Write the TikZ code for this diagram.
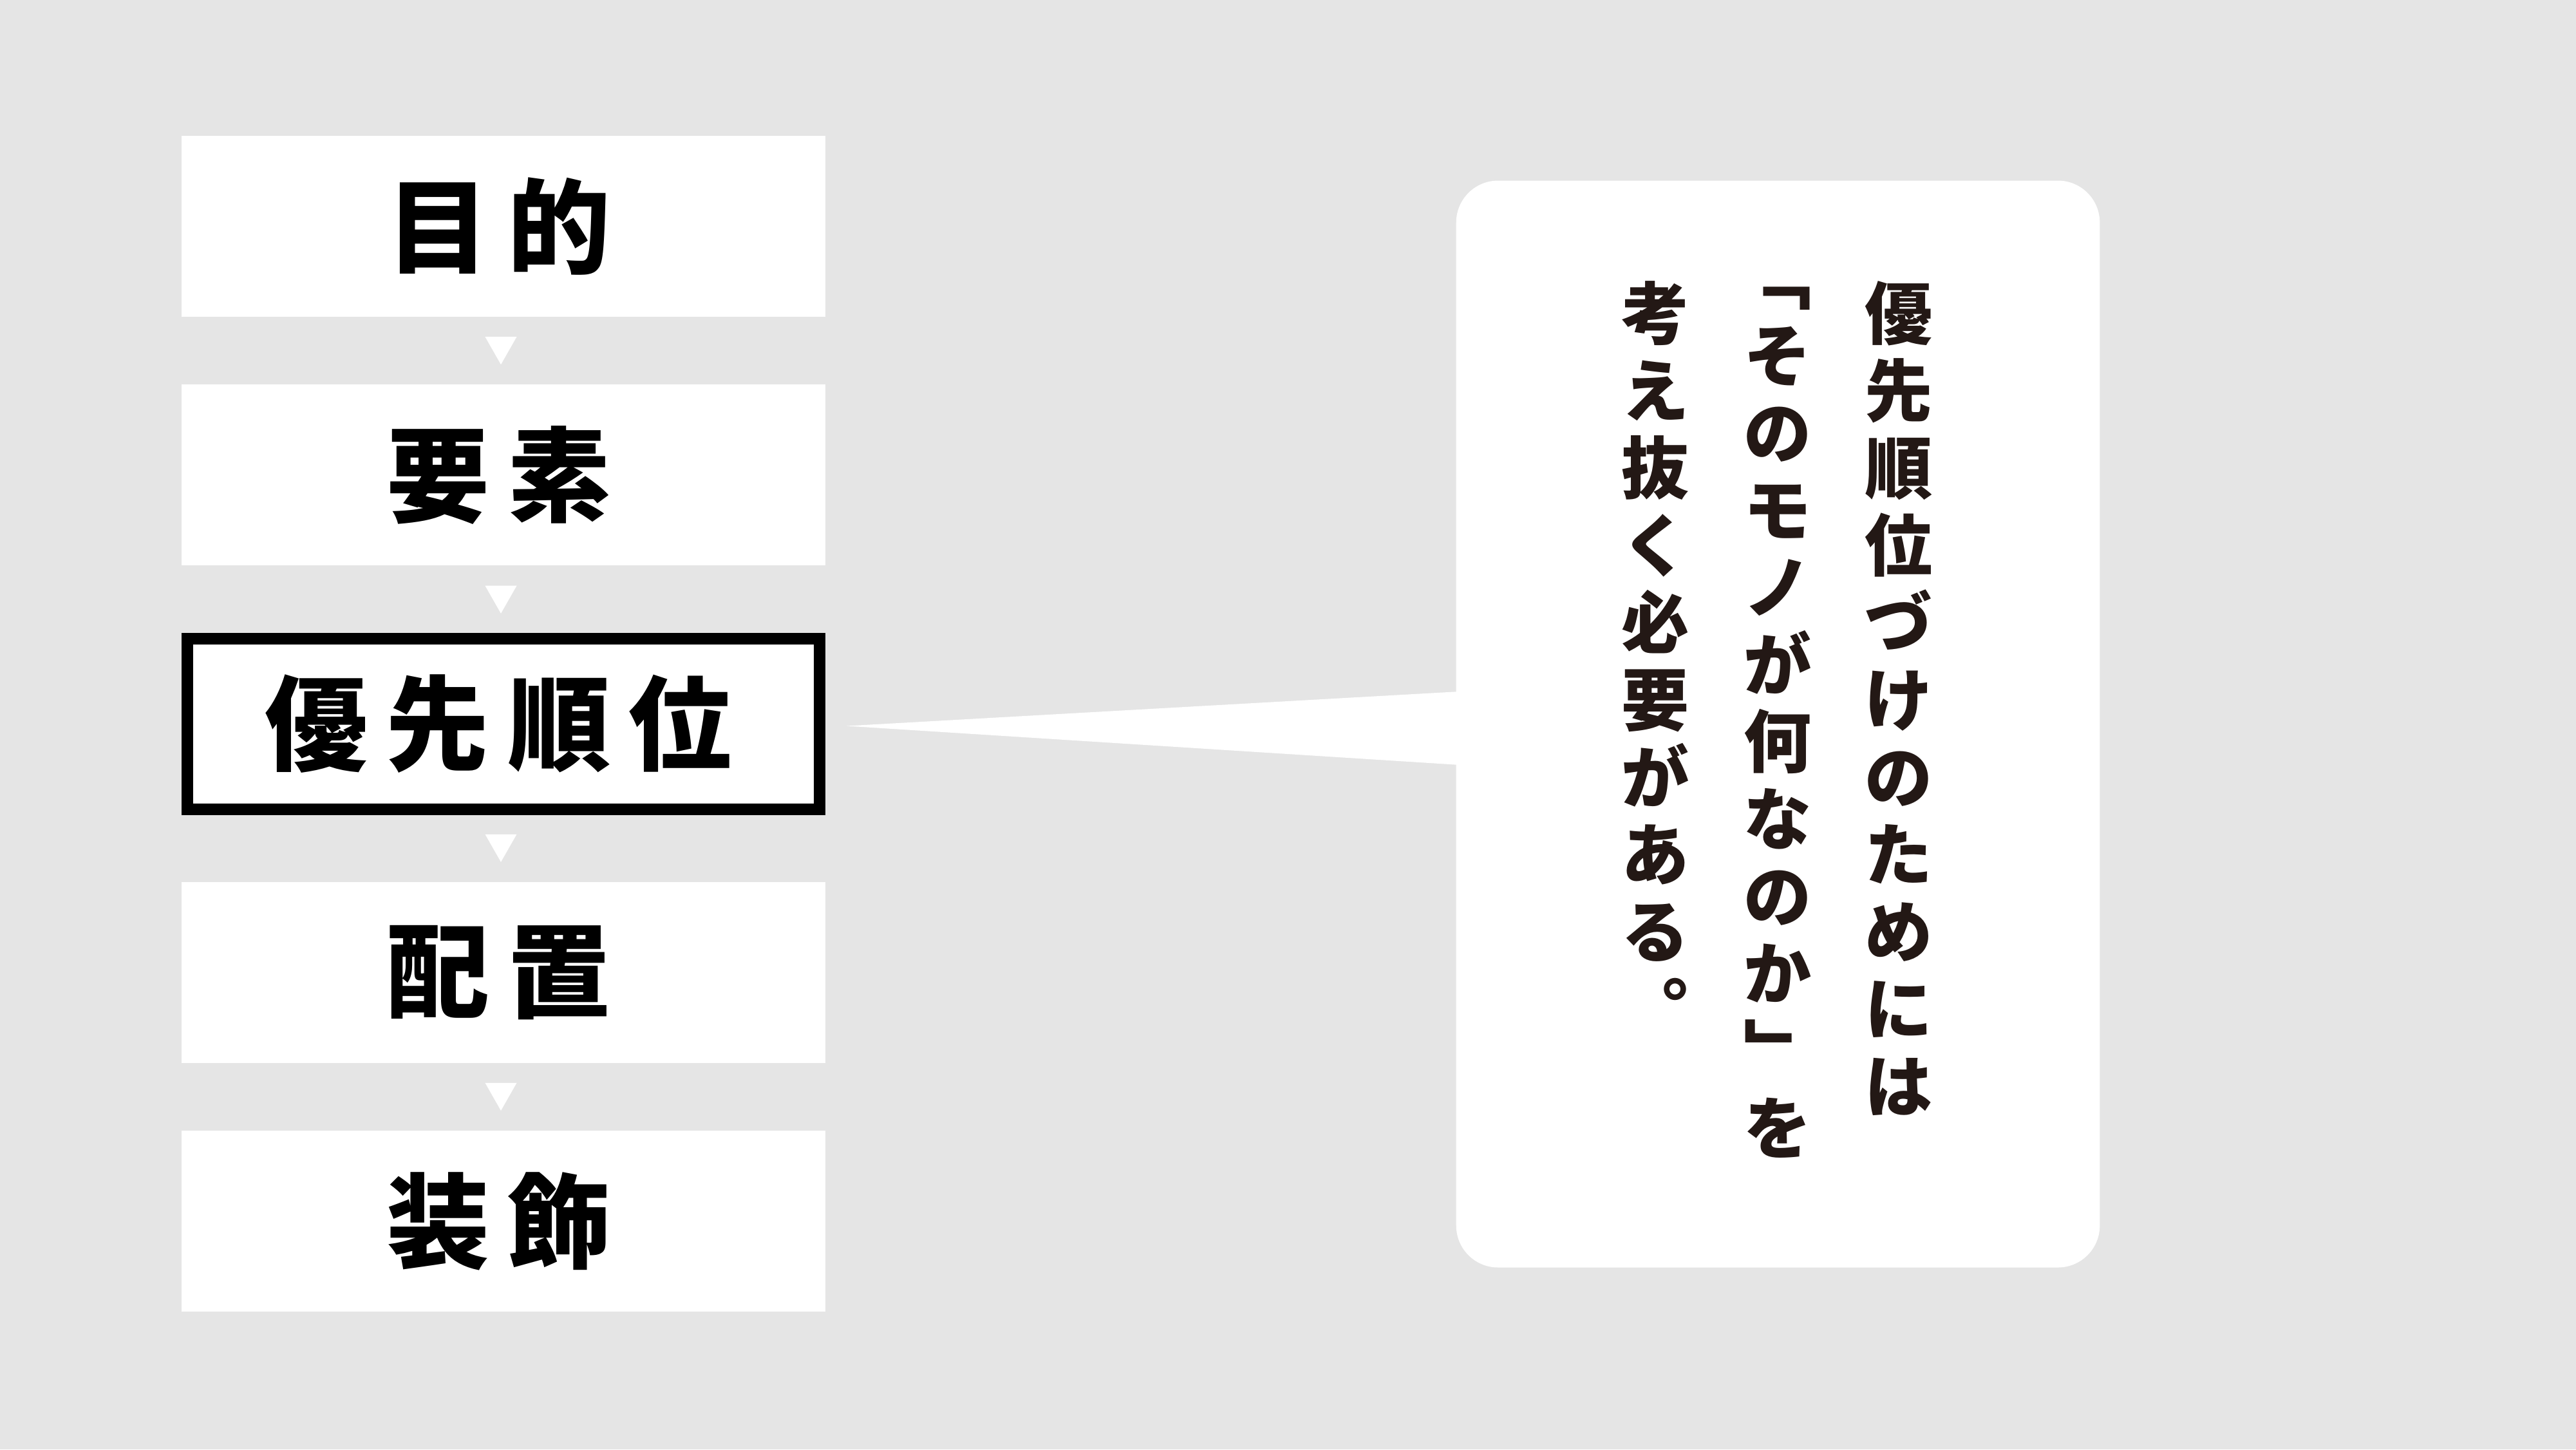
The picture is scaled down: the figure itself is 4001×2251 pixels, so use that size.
\documentclass[tikz,border=0pt]{standalone}
\usepackage{fontspec}
\newfontfamily\jp{Noto Sans CJK JP}
\usetikzlibrary{calc}
\definecolor{bg}{HTML}{E5E5E5}
\definecolor{ink}{HTML}{231815}
\begin{document}
\begin{tikzpicture}[x=0.01cm,y=-0.01cm,
  box/.style={fill=white, minimum width=10cm, minimum height=2.81cm, inner sep=0pt,
    font=\jp\bfseries\fontsize{45.5pt}{50pt}\selectfont, text=black},
  hibox/.style={box, draw=black, line width=0.18cm, minimum width=9.82cm, minimum height=2.64cm},
  vch/.style={inner sep=0pt, text height=0.924cm, text depth=0.126cm,
    font=\jp\bfseries\fontsize{29.9pt}{34pt}\selectfont, text=ink, anchor=center},
  callout/.style={fill=white, rounded corners=0.65cm, minimum width=9.99cm, minimum height=16.87cm, inner sep=0pt}]
\useasboundingbox (0,0) rectangle (4001,2251);
\fill[bg] (0,0) rectangle (4001,2251);
% flow boxes
\node[box]   (b1) at (782,351.5)   {目\kern0.175em 的\kern0.1em};
\node[box]   (b2) at (782,737.75)  {要\kern0.175em 素\kern0.1em};
\node[hibox] (b3) at (782,1124.5)  {優\kern0.175em 先\kern0.175em 順\kern0.175em 位\kern0.1em};
\node[box]   (b4) at (782,1510.25) {配\kern0.175em 置\kern0.1em};
\node[box]   (b5) at (782,1896.5)  {装\kern0.175em 飾\kern0.1em};
% arrow triangles
\foreach \a/\b in {b1/b2,b2/b3,b3/b4,b4/b5}{
  \coordinate (m) at ($(\a.south)!0.5!(\b.north)$);
  \fill[white] ($(m)+(-28.5,-21.5)$) -- ($(m)+(20.5,-21.5)$) -- ($(m)+(-4,21.5)$) -- cycle;
}
% callout
\node[callout] (call) at (2761.5,1124.5) {};
\coordinate (tip) at ($(b3.east)+(33,3)$);
\fill[white] (tip) -- ($(call.west)+(6,-50.5)$) -- ($(call.west)+(6,63.5)$) -- cycle;
% vertical text
\foreach \c [count=\i from 0] in {優,先,順,位,づ,け,の,た,め,に,は}
  \node[vch] (r\i) at (2949,487+120*\i) {\c};
\foreach \c [count=\i from 0] in {﹁,そ,の,モ,ノ,が,何,な,の,か,﹂,を}
  \node[vch] (m\i) at (2761,432+120*\i) {\c};
\foreach \c [count=\i from 0] in {考,え,抜,く,必,要,が,あ,る,︒}
  \node[vch] (l\i) at (2571,487+120*\i) {\c};
\end{tikzpicture}
\end{document}
